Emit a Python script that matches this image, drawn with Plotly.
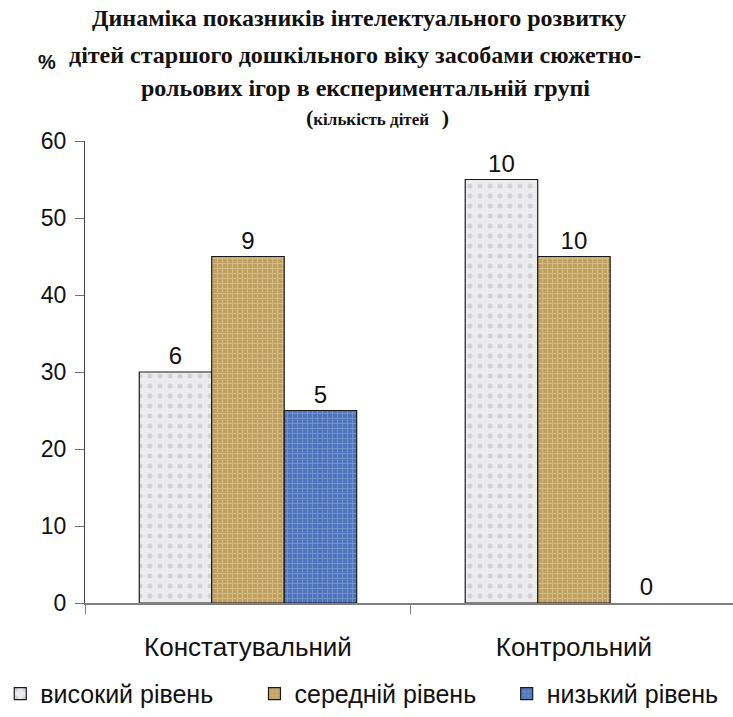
import plotly.graph_objects as go

# Chart data
groups = ["Констатувальний", "Контрольний"]
series_names = ["високий рівень", "середній рівень", "низький рівень"]
percent_high = [30, 55]
percent_mid = [45, 45]
percent_low = [25, 0]
count_high = ["6", "10"]
count_mid = ["9", "10"]
count_low = ["5", "0"]

title_lines = [
    "Динаміка показників інтелектуального розвитку",
    "дітей старшого дошкільного віку засобами сюжетно-",
    "рольових ігор в експериментальній групі",
]

y_ticks = [0, 10, 20, 30, 40, 50, 60]

# Fill styles imitating marble, burlap and blue linen
styles = [
    dict(bg="#ececee", fg="#b3b5ba", shape=".", size=10, solidity=0.2),
    dict(bg="#c09f62", fg="#ead8a2", shape="+", size=5, solidity=0.35),
    dict(bg="#4f74ba", fg="#9cb9e8", shape="+", size=5, solidity=0.3),
]

values = [percent_high, percent_mid, percent_low]
labels = [count_high, count_mid, count_low]
legend_ids = ["legend", "legend2", "legend3"]

fig = go.Figure()
for name, vals, txt, st, lg in zip(series_names, values, labels, styles, legend_ids):
    # no outline on zero-height bars
    widths = [1.2 if v > 0 else 0 for v in vals]
    fig.add_trace(go.Bar(
        name=name,
        x=groups,
        y=vals,
        text=txt,
        textposition="outside",
        cliponaxis=False,
        legend=lg,
        textfont=dict(family="Liberation Sans, Arial", size=24, color="#111111"),
        marker=dict(
            color=st["bg"],
            line=dict(color="#1a1a1a", width=widths),
            pattern=dict(shape=st["shape"], fgcolor=st["fg"], bgcolor=st["bg"],
                         size=st["size"], solidity=st["solidity"], fillmode="overlay"),
        ),
    ))

H = 463.0  # plot height in px
W = 650.0  # plot width in px


def py(ypix):
    return (604 - ypix) / H


def px(xpix):
    return (xpix - 83) / W


annotations = []
title_y = [18, 55, 88]
title_x = [358, 354, 364]
for line, yy, xx in zip(title_lines, title_y, title_x):
    annotations.append(dict(
        text="<b>%s</b>" % line, x=px(xx), y=py(yy), xref="paper", yref="paper",
        xanchor="center", yanchor="middle", showarrow=False,
        font=dict(family="Liberation Serif, Times New Roman", size=24, color="#111111"),
    ))
annotations.append(dict(
    text="<b>(</b><b><span style='font-size:17px'>кількість дітей   </span>)</b>",
    x=px(376), y=py(117), xref="paper", yref="paper",
    xanchor="center", yanchor="middle", showarrow=False,
    font=dict(family="Liberation Serif, Times New Roman", size=22, color="#111111"),
))
annotations.append(dict(
    text="<b>%</b>", x=px(45), y=py(62), xref="paper", yref="paper",
    xanchor="center", yanchor="middle", showarrow=False,
    font=dict(family="Liberation Sans, Arial", size=20, color="#111111"),
))

legend_font = dict(family="Liberation Sans, Arial", size=25, color="#111111")
legend_common = dict(orientation="h", y=py(695), xanchor="left", yanchor="middle",
                     font=legend_font, itemclick=False, itemdoubleclick=False,
                     bgcolor="rgba(0,0,0,0)")

fig.update_layout(
    width=733, height=717,
    margin=dict(l=83, r=0, t=141, b=113),
    paper_bgcolor="white", plot_bgcolor="white",
    barmode="group", bargap=0.333, bargroupgap=0,
    showlegend=True,
    legend=dict(x=px(-2), **legend_common),
    legend2=dict(x=px(253), **legend_common),
    legend3=dict(x=px(506), **legend_common),
    annotations=annotations,
    xaxis=dict(
        type="category", range=[-0.5, 1.488],
        showline=True, linecolor="#808080", linewidth=1.5,
        ticks="outside", ticklen=9, tickcolor="#808080", tickwidth=1,
        tickson="boundaries", ticklabelstandoff=20,
        tickfont=dict(family="Liberation Sans, Arial", size=26, color="#111111"),
        showgrid=False, zeroline=False, fixedrange=True,
    ),
    yaxis=dict(
        range=[0, 60], tickvals=y_ticks,
        showline=True, linecolor="#404040", linewidth=1,
        ticks="outside", ticklen=9, tickcolor="#707070", tickwidth=1,
        ticklabelstandoff=4,
        tickfont=dict(family="Liberation Sans, Arial", size=23, color="#111111"),
        showgrid=False, zeroline=False, fixedrange=True,
    ),
)

fig.write_html("out.html", config={"displayModeBar": False})
